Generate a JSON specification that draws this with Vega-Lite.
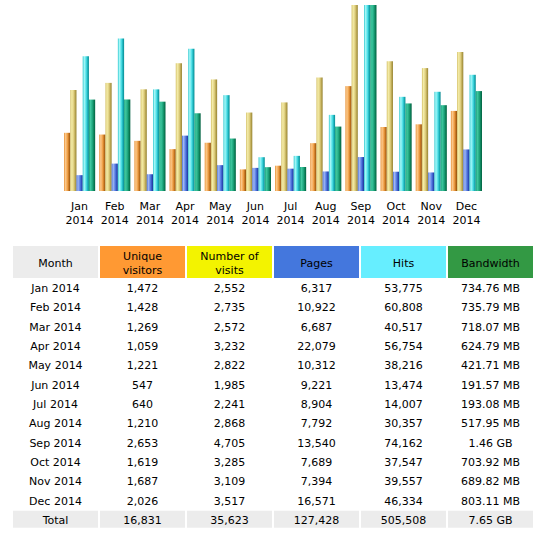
{
  "$schema": "https://vega.github.io/schema/vega-lite/v6.json",
  "description": "AWStats monthly history 2014: bars per month plus summary table.",
  "background": "white",
  "padding": {"left": 13, "top": 5, "right": 16, "bottom": 0},
  "datasets": {
    "stats": [
      {"Month": "Jan 2014", "Unique visitors": 1472, "Number of visits": 2552, "Pages": 6317, "Hits": 53775, "MB": 734.76, "Bandwidth": "734.76 MB"},
      {"Month": "Feb 2014", "Unique visitors": 1428, "Number of visits": 2735, "Pages": 10922, "Hits": 60808, "MB": 735.79, "Bandwidth": "735.79 MB"},
      {"Month": "Mar 2014", "Unique visitors": 1269, "Number of visits": 2572, "Pages": 6687, "Hits": 40517, "MB": 718.07, "Bandwidth": "718.07 MB"},
      {"Month": "Apr 2014", "Unique visitors": 1059, "Number of visits": 3232, "Pages": 22079, "Hits": 56754, "MB": 624.79, "Bandwidth": "624.79 MB"},
      {"Month": "May 2014", "Unique visitors": 1221, "Number of visits": 2822, "Pages": 10312, "Hits": 38216, "MB": 421.71, "Bandwidth": "421.71 MB"},
      {"Month": "Jun 2014", "Unique visitors": 547, "Number of visits": 1985, "Pages": 9221, "Hits": 13474, "MB": 191.57, "Bandwidth": "191.57 MB"},
      {"Month": "Jul 2014", "Unique visitors": 640, "Number of visits": 2241, "Pages": 8904, "Hits": 14007, "MB": 193.08, "Bandwidth": "193.08 MB"},
      {"Month": "Aug 2014", "Unique visitors": 1210, "Number of visits": 2868, "Pages": 7792, "Hits": 30357, "MB": 517.95, "Bandwidth": "517.95 MB"},
      {"Month": "Sep 2014", "Unique visitors": 2653, "Number of visits": 4705, "Pages": 13540, "Hits": 74162, "MB": 1495.04, "Bandwidth": "1.46 GB"},
      {"Month": "Oct 2014", "Unique visitors": 1619, "Number of visits": 3285, "Pages": 7689, "Hits": 37547, "MB": 703.92, "Bandwidth": "703.92 MB"},
      {"Month": "Nov 2014", "Unique visitors": 1687, "Number of visits": 3109, "Pages": 7394, "Hits": 39557, "MB": 689.82, "Bandwidth": "689.82 MB"},
      {"Month": "Dec 2014", "Unique visitors": 2026, "Number of visits": 3517, "Pages": 16571, "Hits": 46334, "MB": 803.11, "Bandwidth": "803.11 MB"},
      {"Month": "Total", "Unique visitors": 16831, "Number of visits": 35623, "Pages": 127428, "Hits": 505508, "MB": 7833.6, "Bandwidth": "7.65 GB"}
    ],
    "columns": [
      {"Column": "Month", "Label": "Month"},
      {"Column": "Unique visitors", "Label": "Unique\nvisitors"},
      {"Column": "Number of visits", "Label": "Number of\nvisits"},
      {"Column": "Pages", "Label": "Pages"},
      {"Column": "Hits", "Label": "Hits"},
      {"Column": "Bandwidth", "Label": "Bandwidth"}
    ]
  },
  "spacing": 20,
  "center": true,
  "vconcat": [
    {
      "width": 422,
      "height": 186,
      "data": {"name": "stats"},
      "transform": [{"filter": "datum.Month != 'Total'"}],
      "encoding": {
        "x": {
          "field": "Month",
          "type": "nominal",
          "sort": null,
          "scale": {"paddingInner": 0.114, "paddingOuter": 0.057},
          "axis": {
            "title": null,
            "labelAngle": 0,
            "domain": false,
            "ticks": false,
            "labelExpr": "split(datum.label, ' ')",
            "labelFontSize": 11,
            "labelColor": "#000",
            "labelPadding": 9,
            "labelLineHeight": 14.5
          }
        }
      },
      "layer": [
        {
          "layer": [
            {
              "mark": {"type": "bar", "color": {"gradient": "linear", "x1": 0, "x2": 1, "y1": 0, "y2": 0, "stops": [
                {"offset": 0, "color": "#e8943c"}, {"offset": 0.25, "color": "#fbc98c"}, {"offset": 0.55, "color": "#f0a048"}, {"offset": 0.8, "color": "#c0701c"}, {"offset": 1, "color": "#8c4c0c"}]}},
              "encoding": {
                "xOffset": {"datum": "Unique visitors", "scale": {"domain": ["Unique visitors", "Number of visits", "Pages", "Hits", "Bandwidth"], "paddingInner": 0, "paddingOuter": 0}},
                "y": {"field": "Unique visitors", "type": "quantitative", "scale": {"nice": false}, "axis": null}
              }
            },
            {
              "mark": {"type": "bar", "color": {"gradient": "linear", "x1": 0, "x2": 1, "y1": 0, "y2": 0, "stops": [
                {"offset": 0, "color": "#d4c068"}, {"offset": 0.25, "color": "#f4eca8"}, {"offset": 0.55, "color": "#e0d080"}, {"offset": 0.8, "color": "#b8a450"}, {"offset": 1, "color": "#948230"}]}},
              "encoding": {
                "xOffset": {"datum": "Number of visits", "scale": {"domain": ["Unique visitors", "Number of visits", "Pages", "Hits", "Bandwidth"], "paddingInner": 0, "paddingOuter": 0}},
                "y": {"field": "Number of visits", "type": "quantitative", "scale": {"nice": false}, "axis": null}
              }
            }
          ]
        },
        {
          "layer": [
            {
              "mark": {"type": "bar", "color": {"gradient": "linear", "x1": 0, "x2": 1, "y1": 0, "y2": 0, "stops": [
                {"offset": 0, "color": "#4c70d8"}, {"offset": 0.25, "color": "#a0b8f4"}, {"offset": 0.55, "color": "#5c80e4"}, {"offset": 0.8, "color": "#3050c0"}, {"offset": 1, "color": "#1c3490"}]}},
              "encoding": {
                "xOffset": {"datum": "Pages", "scale": {"domain": ["Unique visitors", "Number of visits", "Pages", "Hits", "Bandwidth"], "paddingInner": 0, "paddingOuter": 0}},
                "y": {"field": "Pages", "type": "quantitative", "scale": {"nice": false}, "axis": null}
              }
            },
            {
              "mark": {"type": "bar", "color": {"gradient": "linear", "x1": 0, "x2": 1, "y1": 0, "y2": 0, "stops": [
                {"offset": 0, "color": "#30c8d0"}, {"offset": 0.25, "color": "#a8f8f8"}, {"offset": 0.55, "color": "#50e0e8"}, {"offset": 0.8, "color": "#18b0b8"}, {"offset": 1, "color": "#088890"}]}},
              "encoding": {
                "xOffset": {"datum": "Hits", "scale": {"domain": ["Unique visitors", "Number of visits", "Pages", "Hits", "Bandwidth"], "paddingInner": 0, "paddingOuter": 0}},
                "y": {"field": "Hits", "type": "quantitative", "scale": {"nice": false}, "axis": null}
              }
            }
          ]
        },
        {
          "mark": {"type": "bar", "color": {"gradient": "linear", "x1": 0, "x2": 1, "y1": 0, "y2": 0, "stops": [
            {"offset": 0, "color": "#18a078"}, {"offset": 0.25, "color": "#40c8a0"}, {"offset": 0.55, "color": "#20a880"}, {"offset": 0.8, "color": "#0c8058"}, {"offset": 1, "color": "#006040"}]}},
          "encoding": {
            "xOffset": {"datum": "Bandwidth", "scale": {"domain": ["Unique visitors", "Number of visits", "Pages", "Hits", "Bandwidth"], "paddingInner": 0, "paddingOuter": 0}},
            "y": {"field": "MB", "type": "quantitative", "scale": {"nice": false}, "axis": null}
          }
        }
      ],
      "resolve": {"scale": {"y": "independent"}}
    },
    {
      "spacing": 0,
      "vconcat": [
        {
          "width": 520,
          "height": 32,
          "data": {"name": "columns"},
          "encoding": {
            "x": {
              "field": "Column",
              "type": "nominal",
              "sort": null,
              "scale": {"paddingInner": 0.023, "paddingOuter": 0},
              "axis": null
            }
          },
          "layer": [
            {
              "mark": "bar",
              "encoding": {
                "color": {
                  "field": "Column",
                  "type": "nominal",
                  "scale": {
                    "domain": ["Month", "Unique visitors", "Number of visits", "Pages", "Hits", "Bandwidth"],
                    "range": ["#ececec", "#ff9933", "#f3f300", "#4477dd", "#66eeff", "#339944"]
                  },
                  "legend": null
                }
              }
            },
            {
              "transform": [{"filter": "indexof(datum.Label, '\\n') < 0"}],
              "mark": {"type": "text", "color": "#000", "dy": 2},
              "encoding": {"text": {"field": "Label"}}
            },
            {
              "transform": [{"filter": "indexof(datum.Label, '\\n') >= 0"}],
              "mark": {"type": "text", "lineBreak": "\n", "lineHeight": 14.3, "color": "#000", "dy": -5},
              "encoding": {"text": {"field": "Label"}}
            }
          ]
        },
        {
          "width": 520,
          "height": 251,
          "data": {"name": "stats"},
          "encoding": {
            "y": {
              "field": "Month",
              "type": "nominal",
              "scale": {
                "domain": ["Jan 2014", "Feb 2014", "Mar 2014", "Apr 2014", "May 2014", "Jun 2014", "Jul 2014", "Aug 2014", "Sep 2014", "Oct 2014", "Nov 2014", "Dec 2014", "Total"],
                "paddingInner": 0,
                "paddingOuter": 0
              },
              "axis": null
            }
          },
          "layer": [
            {
              "transform": [
                {"filter": "datum.Month == 'Total'"},
                {"fold": ["Month", "Unique visitors", "Number of visits", "Pages", "Hits", "Bandwidth"], "as": ["Column", "Value"]}
              ],
              "mark": {"type": "rect", "color": "#ececec", "height": {"band": 0.88}},
              "encoding": {
                "x": {"field": "Column", "type": "nominal", "scale": {"domain": ["Month", "Unique visitors", "Number of visits", "Pages", "Hits", "Bandwidth"], "paddingInner": 0.023, "paddingOuter": 0}, "axis": null}
              }
            },
            {
              "transform": [
                {"fold": ["Unique visitors", "Number of visits", "Pages", "Hits"], "as": ["Column", "Value"]}
              ],
              "mark": {"type": "text", "color": "#000", "dy": 1.5},
              "encoding": {
                "x": {"field": "Column", "type": "nominal", "scale": {"domain": ["Month", "Unique visitors", "Number of visits", "Pages", "Hits", "Bandwidth"], "paddingInner": 0.023, "paddingOuter": 0}, "axis": null},
                "text": {"field": "Value", "type": "quantitative", "format": ","}
              }
            },
            {
              "mark": {"type": "text", "color": "#000", "dy": 1.5},
              "encoding": {
                "x": {"datum": "Month", "type": "nominal", "scale": {"domain": ["Month", "Unique visitors", "Number of visits", "Pages", "Hits", "Bandwidth"], "paddingInner": 0.023, "paddingOuter": 0}, "axis": null},
                "text": {"field": "Month"}
              }
            },
            {
              "mark": {"type": "text", "color": "#000", "dy": 1.5},
              "encoding": {
                "x": {"datum": "Bandwidth", "type": "nominal", "scale": {"domain": ["Month", "Unique visitors", "Number of visits", "Pages", "Hits", "Bandwidth"], "paddingInner": 0.023, "paddingOuter": 0}, "axis": null},
                "text": {"field": "Bandwidth"}
              }
            }
          ]
        }
      ]
    }
  ],
  "config": {
    "view": {"stroke": null},
    "font": "DejaVu Sans",
    "text": {"font": "DejaVu Sans", "fontSize": 11},
    "axis": {"labelFont": "DejaVu Sans"}
  }
}
